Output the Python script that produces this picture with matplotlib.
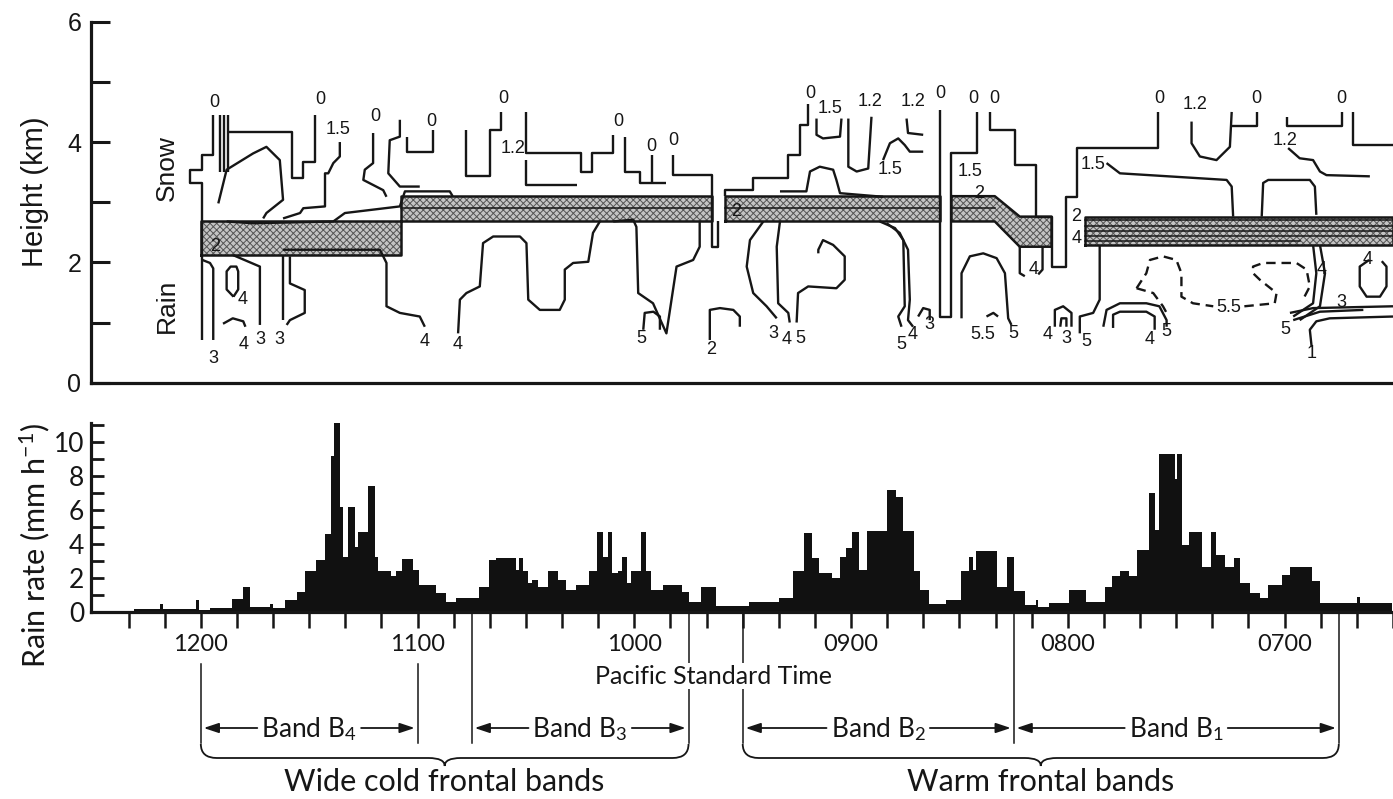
import matplotlib
matplotlib.use("Agg")
import matplotlib.pyplot as plt
import matplotlib.transforms as mtransforms
from matplotlib.patches import Polygon, PathPatch
from matplotlib.path import Path
from matplotlib import font_manager
import numpy as np

# ---------------------------------------------------------------- fonts
def pick(names):
    for n in names:
        try:
            font_manager.findfont(font_manager.FontProperties(family=n), fallback_to_default=False)
            return n
        except Exception:
            pass
    return "DejaVu Sans"

HELV = pick(["Liberation Sans", "Arimo", "DejaVu Sans"])
MYR = pick(["Lato", "Open Sans", "Noto Sans", "DejaVu Sans"])
plt.rcParams["font.family"] = [HELV, "DejaVu Sans"]
plt.rcParams["mathtext.fontset"] = "custom"
plt.rcParams["mathtext.rm"] = MYR
plt.rcParams["mathtext.it"] = MYR + ":italic"
plt.rcParams["mathtext.bf"] = MYR + ":bold"
plt.rcParams["hatch.linewidth"] = 0.7

# ---------------------------------------------------------------- data
# time = minutes after 0600 PST (axis runs from 1230 at left to ~0630 at right)
hour_tick_t = [360, 300, 240, 180, 120, 60]
hour_tick_labels = ["1200", "1100", "1000", "0900", "0800", "0700"]

# rain rate (mm/h), step edges listed left -> right (descending time)
rain_edges = [378.5, 371.3, 370.5, 361.2, 360.4, 357.5, 351.5, 348.3, 346.5, 340.9,
              340.0, 336.8, 333.5, 331.2, 328.2, 325.7, 323.9, 323.0, 321.6, 320.7,
              319.3, 317.2, 316.5, 313.7, 311.9, 311.0, 307.3, 306.1, 304.2, 301.3,
              299.5, 294.8, 292.1, 289.3, 282.9, 280.1, 278.4, 272.7, 271.8, 270.7,
              269.5, 268.3, 266.7, 264.0, 261.2, 258.9, 256.1, 252.5, 250.2, 248.6,
              247.4, 246.2, 244.6, 243.5, 242.1, 240.9, 238.2, 236.8, 235.4, 232.2,
              226.7, 224.8, 221.6, 217.4, 208.2, 199.9, 196.2, 193.0, 190.7, 188.9,
              185.2, 183.1, 181.5, 179.8, 177.8, 175.5, 170.0, 167.7, 165.6, 162.6,
              160.8, 158.5, 153.8, 149.7, 147.4, 146.2, 145.5, 139.6, 136.8, 134.9,
              131.9, 128.9, 128.2, 125.3, 119.7, 115.1, 109.6, 107.8, 105.5, 103.2,
              100.9, 97.6, 96.0, 94.7, 90.4, 89.8, 88.4, 86.6, 82.9, 80.3,
              79.0, 76.4, 73.9, 72.3, 69.5, 66.7, 64.5, 60.8, 58.5, 52.5,
              50.2, 40.0, 39.0, 30.4]
rain_rate = [0.18, 0.45, 0.15, 0.7, 0.12, 0.25, 0.75, 1.5, 0.3, 0.5,
             0.25, 0.7, 1.2, 2.4, 3.05, 4.6, 9.2, 11.5, 6.2, 3.25,
             6.15, 3.8, 4.7, 7.4, 3.25, 2.4, 2.1, 2.4, 3.1, 2.5,
             1.6, 1.1, 0.6, 0.8, 1.5, 3.05, 3.15, 2.5, 3.2, 2.4,
             1.7, 1.9, 1.5, 2.4, 1.9, 1.3, 1.6, 2.4, 4.7, 3.25,
             4.7, 2.3, 2.4, 3.25, 1.7, 2.4, 4.7, 2.4, 1.3, 1.6,
             1.2, 0.6, 1.5, 0.35, 0.6, 0.8, 2.4, 4.65, 3.15, 2.3,
             2.0, 3.25, 3.75, 4.7, 2.5, 4.75, 7.2, 6.75, 4.75, 2.4,
             1.3, 0.5, 0.7, 2.4, 3.25, 2.5, 3.6, 1.5, 3.25, 1.25,
             0.4, 0.7, 0.3, 0.55, 1.3, 0.6, 1.5, 2.1, 2.4, 2.1,
             3.65, 7.0, 4.8, 9.3, 7.8, 9.3, 3.95, 4.7, 2.65, 4.7,
             3.35, 2.65, 3.2, 1.7, 1.1, 0.8, 1.6, 2.2, 2.65, 1.8,
             0.55, 0.9, 0.55]

# melting (bright band) layer, rectangular pieces (km)
melt_t_left = [360.0, 304.7, 215.1, 115.6]
melt_t_right = [304.7, 218.8, 155.7, 30.4]
melt_bottom = [2.13, 2.68, 2.68, 2.29]
melt_top = [2.68, 3.10, 3.10, 2.76]
# sloping piece
melt_slope_t = [152.5, 140.5, 133.6, 124.8, 124.8, 133.6, 140.5, 152.5]
melt_slope_h = [3.10, 3.10, 2.76, 2.76, 2.26, 2.26, 2.68, 2.68]
# contour lines running inside the layer
melt_inner_t0 = [304.7, 215.1, 152.5, 115.6, 115.6, 115.6, 115.6, 115.6]
melt_inner_t1 = [218.8, 155.7, 140.5, 30.4, 30.4, 30.4, 30.4, 56.0]
melt_inner_h = [2.90, 2.90, 2.90, 2.70, 2.61, 2.52, 2.43, 2.35]

# contours (time, km)
contours_snow = [
    [(356.6, 4.45), (356.6, 3.79), (359.6, 3.79), (359.6, 3.54), (363.1, 3.54), (363.1, 3.32), (359.6, 3.32), (359.6, 0.71)],
    [(354.8, 4.45), (354.8, 3.51)],
    [(353.7, 4.45), (353.7, 3.51)],
    [(352.6, 4.45), (352.6, 3.51)],
    [(352.9, 4.17), (334.9, 4.17), (334.9, 3.40), (331.7, 3.40), (331.7, 3.67), (328.5, 3.67), (328.5, 4.45)],
    [(355.2, 2.98), (352.9, 3.54), (345.6, 3.81), (341.9, 3.92), (338.2, 3.70), (337.3, 3.04), (341.9, 2.82), (342.8, 2.73)],
    [(321.6, 4.00), (321.6, 3.76), (323.4, 3.65), (324.8, 3.48), (325.7, 3.48), (325.7, 2.93), (331.7, 2.90), (332.6, 2.82), (337.3, 2.73)],
    [(312.4, 4.15), (312.4, 3.65), (314.7, 3.54), (315.1, 3.37), (309.6, 3.20), (308.7, 3.09)],
    [(305.0, 4.37), (305.0, 4.09), (307.8, 4.03), (308.2, 3.48), (305.0, 3.26), (299.5, 3.26)],
    [(303.1, 4.09), (303.1, 3.84), (295.8, 3.84), (295.8, 4.20)],
    [(352.9, 2.68), (345.6, 2.65), (323.4, 2.68), (320.2, 2.82), (305.0, 2.93), (303.6, 3.18), (291.2, 3.18), (290.4, 3.10)],
    [(286.6, 4.20), (286.6, 3.44), (280.1, 3.44), (280.1, 4.20), (276.9, 4.20), (276.9, 4.50)],
    [(270.0, 4.50), (270.0, 3.81), (254.8, 3.81), (254.8, 3.51), (252.0, 3.51), (252.0, 3.81), (246.0, 3.81), (246.0, 4.12)],
    [(270.0, 3.70), (270.0, 3.29), (256.1, 3.29)],
    [(242.8, 4.09), (242.8, 3.51), (238.6, 3.51), (238.6, 3.32), (231.3, 3.32)],
    [(235.4, 3.79), (235.4, 3.34)],
    [(229.4, 3.79), (229.4, 3.45), (218.8, 3.45), (218.8, 2.26), (217.0, 2.26), (217.0, 2.68)],
    [(215.1, 3.10), (215.1, 3.20), (207.3, 3.20), (207.3, 3.40), (197.6, 3.40), (197.6, 3.79), (194.4, 3.79), (194.4, 4.28), (192.1, 4.28), (192.1, 4.64)],
    [(189.8, 4.39), (189.8, 4.12), (188.0, 4.06), (183.3, 4.09), (182.9, 4.39)],
    [(181.0, 4.39), (181.0, 3.59), (178.7, 3.51), (175.5, 3.56), (174.6, 4.42)],
    [(199.9, 3.18), (192.6, 3.18), (191.6, 3.51), (188.9, 3.59), (185.2, 3.54), (184.3, 3.37), (183.3, 3.15), (171.4, 3.09)],
    [(171.4, 3.70), (169.5, 3.98), (167.2, 4.06), (165.4, 3.95), (164.0, 3.84), (160.3, 3.84)],
    [(164.9, 4.39), (164.5, 4.15), (160.3, 4.12)],
    [(155.7, 4.53), (155.7, 1.10), (152.5, 1.10), (152.5, 3.81), (145.5, 3.81), (145.5, 4.50)],
    [(141.9, 4.50), (141.9, 4.20), (135.0, 4.20), (135.0, 3.62), (129.0, 3.62), (129.0, 2.76), (124.8, 2.76), (124.8, 1.93),
     (120.7, 1.93), (120.7, 3.09), (117.9, 3.09), (117.9, 3.90), (95.3, 3.90), (95.3, 4.50)],
    [(109.6, 3.65), (105.9, 3.48), (76.4, 3.37), (75.0, 3.26), (74.6, 2.76)],
    [(66.7, 2.76), (66.3, 3.32), (64.9, 3.37), (53.4, 3.37), (52.0, 3.26), (51.6, 2.79)],
    [(86.1, 4.34), (86.1, 3.98), (83.8, 3.76), (79.2, 3.70), (75.5, 3.92), (75.0, 4.50)],
    [(75.0, 4.26), (68.1, 4.26), (68.1, 4.50)],
    [(59.8, 4.42), (59.8, 4.26), (44.6, 4.26), (44.6, 4.50)],
    [(41.4, 4.50), (41.4, 3.95), (30.4, 3.95)],
    [(59.4, 3.90), (56.2, 3.73), (52.5, 3.70), (50.6, 3.51), (48.8, 3.45), (36.8, 3.43)],
]

contours_rain = [
    [(359.6, 2.04), (357.5, 1.99), (356.6, 1.90), (356.6, 0.71)],
    [(351.0, 1.43), (352.9, 1.55), (352.9, 1.85), (351.8, 1.93), (350.2, 1.93), (349.7, 1.85), (349.7, 1.55), (351.0, 1.43)],
    [(353.9, 0.98), (351.2, 1.07), (348.3, 1.02), (347.7, 0.93)],
    [(351.1, 2.12), (343.7, 1.93), (343.7, 0.96)],
    [(337.3, 2.10), (337.3, 1.04)],
    [(335.4, 2.10), (335.4, 1.65), (331.3, 1.54), (331.3, 1.16), (335.4, 1.04), (336.3, 0.96)],
    [(337.3, 2.21), (310.5, 2.21), (308.7, 1.99), (308.7, 1.27), (305.0, 1.16), (299.5, 1.10), (298.1, 0.93)],
    [(288.9, 0.82), (288.4, 1.38), (286.6, 1.49), (282.9, 1.60), (282.0, 2.32), (279.2, 2.43), (271.8, 2.43), (270.0, 2.32),
     (269.5, 1.38), (266.3, 1.21), (260.8, 1.21), (259.4, 1.38), (259.4, 1.88), (257.1, 1.99), (252.9, 2.01), (251.6, 2.49), (249.7, 2.68)],
    [(246.0, 2.68), (240.5, 2.71), (239.6, 2.59), (239.1, 1.49), (235.0, 1.32), (231.3, 0.82), (228.5, 1.93), (223.9, 2.04), (222.1, 2.26), (222.1, 2.68)],
    [(237.7, 0.88), (237.3, 1.16), (234.9, 1.18), (233.1, 1.10), (233.1, 0.88)],
    [(219.3, 0.71), (219.3, 1.21), (216.5, 1.24), (212.8, 1.21), (211.0, 1.10), (211.0, 0.93)],
    [(204.5, 2.68), (208.2, 2.37), (209.1, 1.93), (207.3, 1.49), (203.6, 1.27), (200.8, 1.07)],
    [(199.9, 2.68), (200.8, 2.26), (200.4, 1.32), (197.6, 1.16), (197.2, 1.00)],
    [(195.3, 1.00), (194.9, 1.49), (192.1, 1.60), (184.3, 1.57), (182.0, 1.71), (182.0, 2.10), (185.2, 2.29), (188.0, 2.37), (189.3, 2.21), (189.3, 2.15)],
    [(172.3, 2.68), (168.1, 2.57), (165.8, 2.37), (165.4, 1.27), (167.2, 1.10), (166.3, 0.93)],
    [(170.4, 2.65), (166.8, 2.49), (164.5, 2.21), (164.0, 1.38), (164.5, 1.04), (163.1, 0.93)],
    [(161.7, 1.10), (160.3, 1.24), (158.5, 1.21), (158.5, 1.04)],
    [(133.6, 2.26), (133.6, 1.82), (132.2, 1.77)],
    [(127.3, 2.26), (127.3, 1.88), (128.5, 1.80)],
    [(149.7, 1.07), (149.7, 1.82), (147.4, 2.10), (143.7, 2.15), (140.0, 2.07), (137.7, 1.82), (136.8, 1.07), (135.9, 0.96)],
    [(142.8, 1.10), (140.9, 1.16), (139.6, 1.10)],
    [(123.9, 0.93), (123.9, 1.21), (121.6, 1.27), (119.3, 1.16), (119.3, 0.93)],
    [(122.4, 0.93), (122.1, 1.07), (120.7, 1.07), (120.7, 0.93)],
    [(117.0, 0.82), (117.0, 1.10), (113.3, 1.16), (111.5, 1.38), (111.5, 2.29)],
    [(110.5, 0.93), (109.6, 1.21), (105.9, 1.32), (98.6, 1.32), (95.0, 1.27), (93.0, 1.04), (93.0, 0.93)],
    [(107.8, 0.91), (107.8, 1.13), (105.9, 1.18), (98.6, 1.18), (96.3, 1.10), (96.3, 0.88)],
    [(52.5, 2.29), (51.6, 1.82), (52.5, 1.32), (58.0, 1.10)],
    [(50.6, 2.29), (49.2, 1.82), (50.6, 1.27), (56.2, 1.04)],
    [(58.9, 1.16), (52.5, 1.24), (30.4, 1.27)],
    [(58.0, 1.04), (50.6, 1.18), (38.6, 1.21)],
    [(52.9, 0.60), (53.4, 0.88), (51.6, 1.02), (47.9, 1.07), (30.4, 1.10)],
    [(37.0, 2.04), (39.6, 1.93), (39.6, 1.60), (37.7, 1.43), (34.0, 1.43), (32.2, 1.60), (32.2, 1.93), (33.5, 2.02)],
]

contours_dashed = [
    [(101.3, 1.57), (98.6, 1.82), (97.6, 2.04), (94.0, 2.10), (90.3, 2.04), (88.9, 1.82), (88.9, 1.43), (85.7, 1.32), (80.1, 1.27)],
    [(71.5, 1.27), (63.1, 1.32), (62.6, 1.49), (67.2, 1.71), (69.1, 1.82), (69.1, 1.93), (66.3, 1.99), (57.1, 1.99), (54.3, 1.88), (53.4, 1.60), (55.3, 1.38)],
    [(101.3, 1.57), (96.7, 1.49), (94.0, 1.27), (93.0, 1.16)],
]

label_text = ["0", "0", "1.5", "0", "2", "4", "4", "3", "3", "3",
              "0", "0", "1.2", "0", "0", "0", "0", "1.5", "1.2", "1.2",
              "0", "0", "0", "0", "1.2", "0", "0", "1.2", "1.5", "1.5",
              "2", "1.5", "2", "2", "4", "4", "4", "5", "2", "3",
              "4", "5", "5", "4", "3", "4", "5.5", "5", "4", "3",
              "5", "4", "5", "5.5", "4", "3", "5", "1", "4"]
label_t = [356.2, 327.1, 322.1, 311.9, 356.1, 348.4, 348.3, 343.7, 338.2, 356.6,
           296.2, 276.4, 273.7, 244.6, 235.4, 229.4, 191.6, 186.0, 175.0, 163.1,
           155.7, 146.5, 140.5, 94.9, 85.2, 68.1, 44.6, 60.3, 169.5, 147.4,
           144.7, 113.3, 211.9, 117.9, 117.9, 298.1, 288.9, 238.2, 218.8, 201.8,
           198.1, 194.4, 166.3, 163.1, 158.5, 129.9, 143.7, 135.4, 125.8, 120.7,
           115.1, 97.6, 93.0, 75.8, 50.2, 44.6, 60.3, 52.9, 37.5]
label_h = [4.65, 4.70, 4.20, 4.42, 2.26, 1.38, 0.63, 0.71, 0.71, 0.41,
           4.34, 4.73, 3.90, 4.34, 3.92, 4.03, 4.81, 4.55, 4.67, 4.67,
           4.81, 4.73, 4.73, 4.73, 4.62, 4.73, 4.73, 4.03, 3.54, 3.51,
           3.15, 3.62, 2.85, 2.76, 2.40, 0.68, 0.63, 0.74, 0.55, 0.82,
           0.71, 0.74, 0.63, 0.80, 0.96, 1.88, 0.80, 0.82, 0.80, 0.74,
           0.68, 0.71, 0.85, 1.25, 1.88, 1.34, 0.88, 0.49, 2.05]

band_names = ["Band B$_\\mathrm{4}$", "Band B$_\\mathrm{3}$", "Band B$_\\mathrm{2}$", "Band B$_\\mathrm{1}$"]
band_start = [360, 285, 210, 135]
band_end = [300, 225, 135, 45]
group_names = ["Wide cold frontal bands", "Warm frontal bands"]
group_start = [360, 210]
group_end = [225, 45]

# ---------------------------------------------------------------- layout
W, H = 1393, 799
fig = plt.figure(figsize=(W / 100, H / 100), dpi=100)
fig.patch.set_facecolor("white")


def fx(px):
    return px / W


def fy(py):
    return 1 - py / H


T_LEFT, T_RIGHT = 390.4, 30.4
INK = "#161616"

ax1 = fig.add_axes([fx(91), fy(382.7), 1 - fx(91), fy(21.7) - fy(382.7)])
ax2 = fig.add_axes([fx(91), fy(612), 1 - fx(91), 11.1 * 17 / H])

for ax in (ax1, ax2):
    ax.set_xlim(T_LEFT, T_RIGHT)
    for s in ("top", "right"):
        ax.spines[s].set_visible(False)
    for s in ("left", "bottom"):
        ax.spines[s].set_linewidth(2.3)
        ax.spines[s].set_color(INK)
    ax.set_facecolor("none")

# ---- top panel
ax1.set_ylim(0, 6)
ax1.set_xticks([])
ax1.set_yticks([0, 2, 4, 6])
ax1.set_yticks([1, 3, 5], minor=True)
ax1.tick_params(axis="y", which="both", direction="in", length=14, width=2.2, color=INK)
ax1.tick_params(axis="y", which="major", labelsize=18, pad=7, labelcolor=INK)
for lab in ax1.get_yticklabels():
    lab.set_fontfamily(HELV)

# melting layer
STIP_FACE, STIP_HATCH = "#c4c4c4", "#555555"
for t0, t1, b, tp in zip(melt_t_left, melt_t_right, melt_bottom, melt_top):
    poly = Polygon([(t0, b), (t1, b), (t1, tp), (t0, tp)], closed=True,
                   facecolor=STIP_FACE, edgecolor=STIP_HATCH, hatch="xxxxx", linewidth=0, zorder=1)
    ax1.add_patch(poly)
    ax1.plot([t0, t1, t1, t0, t0], [b, b, tp, tp, b], color=INK, lw=1.8, zorder=3)
poly = Polygon(list(zip(melt_slope_t, melt_slope_h)), closed=True,
               facecolor=STIP_FACE, edgecolor=STIP_HATCH, hatch="xxxxx", linewidth=0, zorder=1)
ax1.add_patch(poly)
ax1.plot(melt_slope_t + [melt_slope_t[0]], melt_slope_h + [melt_slope_h[0]], color=INK, lw=1.8, zorder=3)
for t0, t1, h in zip(melt_inner_t0, melt_inner_t1, melt_inner_h):
    ax1.plot([t0, t1], [h, h], color=INK, lw=1.1, zorder=3)

for line in contours_snow + contours_rain:
    tt, hh = zip(*line)
    ax1.plot(tt, hh, color=INK, lw=1.7, solid_capstyle="butt", zorder=4)
for line in contours_dashed:
    tt, hh = zip(*line)
    ax1.plot(tt, hh, color=INK, lw=1.7, linestyle=(0, (4, 2.5)), zorder=4)

for s, t, h in zip(label_text, label_t, label_h):
    ax1.text(t, h, s, fontsize=13, ha="center", va="center", color=INK, family=HELV, zorder=5)

ax1.text(369.4, 3.57, "Snow", rotation=90, fontsize=19, ha="center", va="center", color=INK, family=HELV)
ax1.text(369.4, 1.27, "Rain", rotation=90, fontsize=19, ha="center", va="center", color=INK, family=HELV)

fig.text(fx(35), fy(192), "Height (km)", rotation=90, ha="center", va="center", fontsize=21, color=INK, family=HELV)

# ---- bottom panel
ax2.set_ylim(0, 11.1)
edges = np.array(rain_edges)[::-1]
vals = np.array(rain_rate)[::-1]
ax2.stairs(vals, edges, fill=True, color="#111111", linewidth=0, baseline=0, zorder=2)

ax2.set_yticks([0, 2, 4, 6, 8, 10])
ax2.set_yticks([1, 3, 5, 7, 9, 11], minor=True)
ax2.tick_params(axis="y", which="both", direction="in", length=9, width=2.0, color=INK)
ax2.tick_params(axis="y", which="major", labelsize=19, pad=5, labelcolor=INK)

xt = np.arange(30, 381, 10)
ax2.set_xticks(xt)
hour_map = dict(zip(hour_tick_t, hour_tick_labels))
ax2.set_xticklabels([hour_map.get(int(v), "") for v in xt])
ax2.tick_params(axis="x", which="major", direction="out", length=11.5, width=1.8, color=INK,
                labelsize=17, pad=4, labelcolor=INK)
for lab in ax2.get_xticklabels() + ax2.get_yticklabels():
    lab.set_fontfamily(MYR)

fig.text(fx(35), fy(545), "Rain rate (mm h$^{-1}$)", rotation=90, ha="center", va="center",
         fontsize=22, color=INK, family=MYR)

# ---- annotations under the time axis
trans = mtransforms.blended_transform_factory(ax2.transData, fig.transFigure)
line_t = [360, 300, 285, 225, 210, 135, 45]
line_top = [664, 664, 612, 612, 612, 612, 612]
Y_BAND = 729
for t, top in zip(line_t, line_top):
    ax2.plot([t, t], [fy(top), fy(Y_BAND + 14)], transform=trans, clip_on=False, color=INK, lw=1.1)

ax2.text(218.0, fy(676), "Pacific Standard Time", transform=trans, ha="center", va="center",
         fontsize=18, family=MYR, color=INK,
         bbox=dict(boxstyle="square,pad=0.05", facecolor="white", edgecolor="none"))

fig.canvas.draw()
renderer = fig.canvas.get_renderer()
inv = ax2.transData.inverted()
for name, t0, t1 in zip(band_names, band_start, band_end):
    tc = 0.5 * (t0 + t1)
    txt = ax2.text(tc, fy(Y_BAND), name, transform=trans, ha="center", va="center",
                   fontsize=19, family=MYR, color=INK)
    bb = txt.get_window_extent(renderer)
    tl = inv.transform((bb.x0 - 4, 0))[0]
    tr = inv.transform((bb.x1 + 4, 0))[0]
    for tail, head in ((tl, t0 - 0.8), (tr, t1 + 0.8)):
        ax2.annotate("", xy=(head, fy(Y_BAND - 1)), xytext=(tail, fy(Y_BAND - 1)),
                     xycoords=trans, textcoords=trans,
                     arrowprops=dict(arrowstyle="-|>,head_length=0.9,head_width=0.3", color=INK, lw=1.3,
                                     shrinkA=0, shrinkB=0))

# braces
Y_TOP, Y_MID, Y_TIP = 744, 758, 766
for name, t0, t1 in zip(group_names, group_start, group_end):
    x0 = ax2.transData.transform((t0, 0))[0]
    x1 = ax2.transData.transform((t1, 0))[0]
    xc = 0.5 * (x0 + x1)
    r = 16

    def P(x, y):
        return (x, H - y)

    verts = [P(x0, Y_TOP), P(x0, Y_MID), P(x0 + r, Y_MID),
             P(xc - r, Y_MID),
             P(xc, Y_MID), P(xc, Y_TIP),
             P(xc, Y_MID), P(xc + r, Y_MID),
             P(x1 - r, Y_MID),
             P(x1, Y_MID), P(x1, Y_TOP)]
    codes = [Path.MOVETO, Path.CURVE3, Path.CURVE3,
             Path.LINETO,
             Path.CURVE3, Path.CURVE3,
             Path.CURVE3, Path.CURVE3,
             Path.LINETO,
             Path.CURVE3, Path.CURVE3]
    patch = PathPatch(Path(verts, codes), facecolor="none", edgecolor=INK, lw=1.3,
                      transform=mtransforms.IdentityTransform())
    fig.add_artist(patch)
    ax2.text(0.5 * (t0 + t1), fy(791), name, transform=trans, ha="center", va="baseline",
             fontsize=22, family=MYR, color=INK)

fig.savefig("out.png", dpi=100, facecolor="white")
